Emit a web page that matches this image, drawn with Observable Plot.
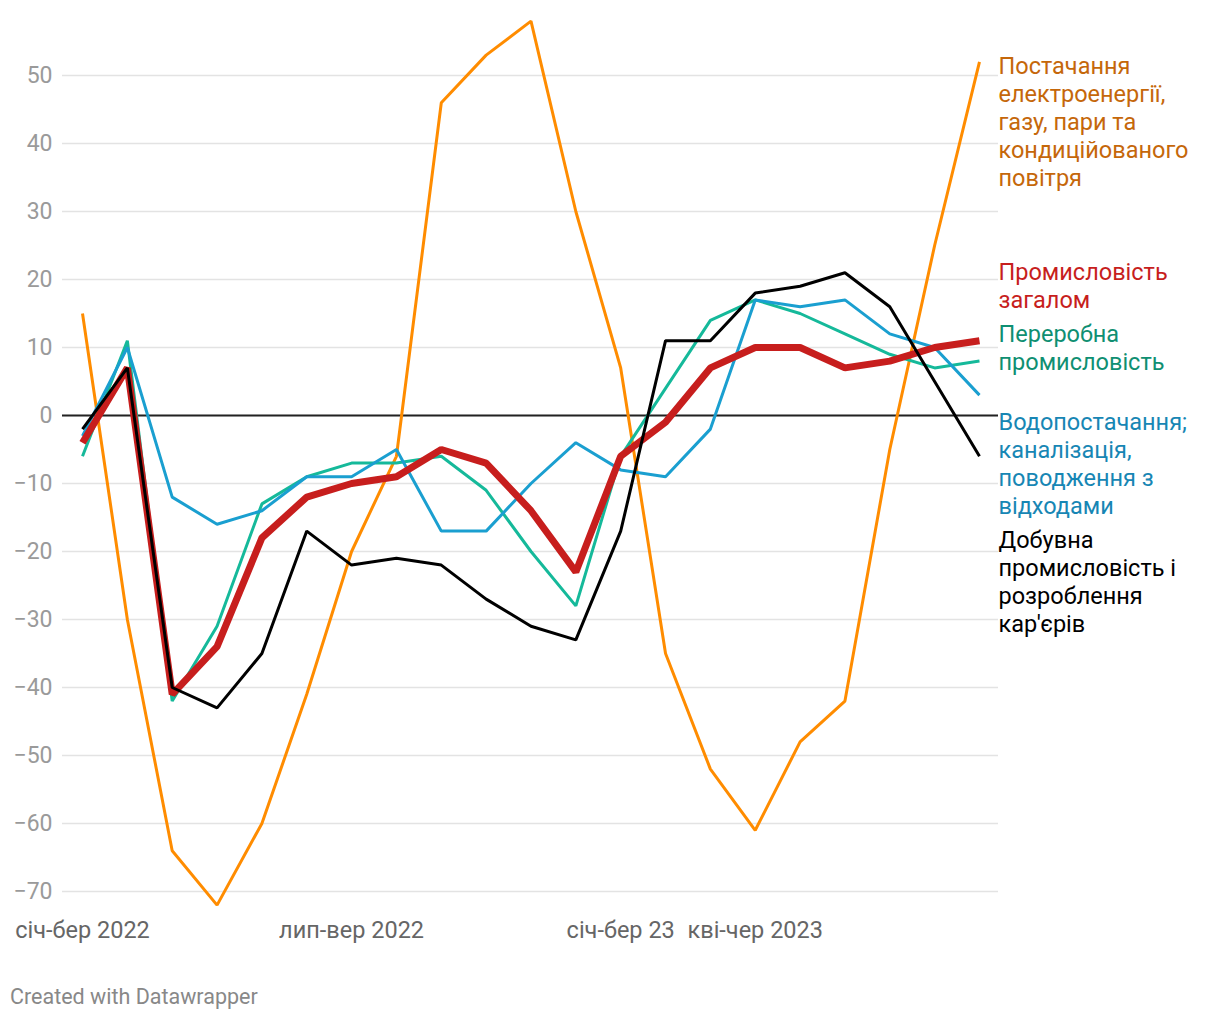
<!DOCTYPE html>
<html>
<head>
<meta charset="utf-8">
<script src="https://cdn.jsdelivr.net/npm/d3@7"></script>
<script src="https://cdn.jsdelivr.net/npm/@observablehq/plot@0.6"></script>
<style>
  html, body { margin: 0; padding: 0; background: #fff; }
  body { width: 1220px; height: 1020px; position: relative; font-family: Roboto, "Noto Sans", sans-serif; }
  #chart { position: absolute; left: 0; top: 0; }
  #caption { position: absolute; left: 10px; top: 984px; font-size: 21.5px; line-height: 26px; color: #888; font-family: Roboto, sans-serif; }
</style>
</head>
<body>
<div id="chart"></div>
<div id="caption">Created with Datawrapper</div>
<script>
const periods = ["січ-бер 2022","лют-кві 2022","бер-тра 2022","кві-чер 2022","тра-лип 2022","чер-сер 2022","лип-вер 2022","сер-жов 2022","вер-лис 2022","жов-гру 2022","лис-січ 23","гру-лют 23","січ-бер 23","лют-кві 2023","бер-тра 2023","кві-чер 2023","тра-лип 2023","чер-сер 2023","лип-вер 2023","сер-жов 2023","вер-лис 2023"];
const tickIndexes = [0, 6, 12, 15];
const yTicks = [-70, -60, -50, -40, -30, -20, -10, 0, 10, 20, 30, 40, 50];

const electricity = [15, -30, -64, -72, -60, -41, -20, -6, 46, 53, 58, 30, 7, -35, -52, -61, -48, -42, -5, 25, 52];
const manufacturing = [-6, 11, -42, -31, -13, -9, -7, -7, -6, -11, -20, -28, -6, 4, 14, 17, 15, 12, 9, 7, 8];
const water = [-3, 10, -12, -16, -14, -9, -9, -5, -17, -17, -10, -4, -8, -9, -2, 17, 16, 17, 12, 10, 3];
const industry = [-4, 7, -41, -34, -18, -12, -10, -9, -5, -7, -14, -23, -6, -1, 7, 10, 10, 7, 8, 10, 11];
const mining = [-2, 7, -40, -43, -35, -17, -22, -21, -22, -27, -31, -33, -17, 11, 11, 18, 19, 21, 16, 5, -6];

const seriesNames = ["electricity", "manufacturing", "water", "industry", "mining"];
const seriesValues = {electricity, manufacturing, water, industry, mining};
const labelTexts = {
  electricity: "Постачання\nелектроенергії,\nгазу, пари та\nкондиційованого\nповітря",
  industry: "Промисловість\nзагалом",
  manufacturing: "Переробна\nпромисловість",
  water: "Водопостачання;\nканалізація,\nповодження з\nвідходами",
  mining: "Добувна\nпромисловість і\nрозроблення\nкар'єрів"
};

// styles
const lineColor = {electricity: "#ff8c00", manufacturing: "#15b99a", water: "#1a9fd0", industry: "#c71e1d", mining: "#000000"};
const textColor = {electricity: "#c5670a", manufacturing: "#0f8f72", water: "#1786b4", industry: "#c71e1d", mining: "#000000"};
const lineWidth = {electricity: 3, manufacturing: 3, water: 3, industry: 7, mining: 3};
const labelY = {electricity: 53.17, industry: 22.88, manufacturing: 13.76, water: 0.82, mining: -16.54};
const drawOrder = ["electricity", "manufacturing", "water", "industry", "mining"];

const lineMarks = drawOrder.map(name => Plot.line(
  seriesValues[name].map((v, i) => ({i, v})),
  {x: "i", y: "v", stroke: lineColor[name], strokeWidth: lineWidth[name], strokeLinejoin: "miter", strokeLinecap: "butt"}
));

const labelData = seriesNames.map(name => ({name, text: labelTexts[name], y: labelY[name]}));

const plot = Plot.plot({
  width: 1220,
  height: 960,
  marginLeft: 62,
  marginRight: 222,
  marginTop: 20.6,
  marginBottom: 55.4,
  style: {fontFamily: "Roboto, sans-serif", background: "#fff", overflow: "visible"},
  x: {domain: [-0.446, 20.424], axis: null},
  y: {domain: [-72, 58], axis: null},
  marks: [
    Plot.gridY(yTicks, {stroke: "#e3e3e3", strokeOpacity: 1, strokeWidth: 1.5}),
    Plot.axisY(yTicks, {tickSize: 0, tickPadding: 10, fontSize: 23, fill: "#9a9a9a", label: null, tickFormat: d => d < 0 ? "\u2212" + Math.abs(d) : String(d), anchor: "left"}),
    Plot.ruleY([0], {stroke: "#222", strokeWidth: 2}),
    ...lineMarks,
    Plot.axisX(tickIndexes, {tickSize: 0, tickPadding: 16, fontSize: 23.5, fill: "#666", label: null, tickFormat: i => periods[i], anchor: "bottom"}),
    Plot.text(labelData, {
      x: 20.424, y: "y", text: "text", textAnchor: "start", lineAnchor: "top",
      lineHeight: 28 / 23.5, fontSize: 23.5, dx: 0,
      fill: d => textColor[d.name]
    })
  ]
});
document.getElementById("chart").appendChild(plot);
</script>
</body>
</html>
